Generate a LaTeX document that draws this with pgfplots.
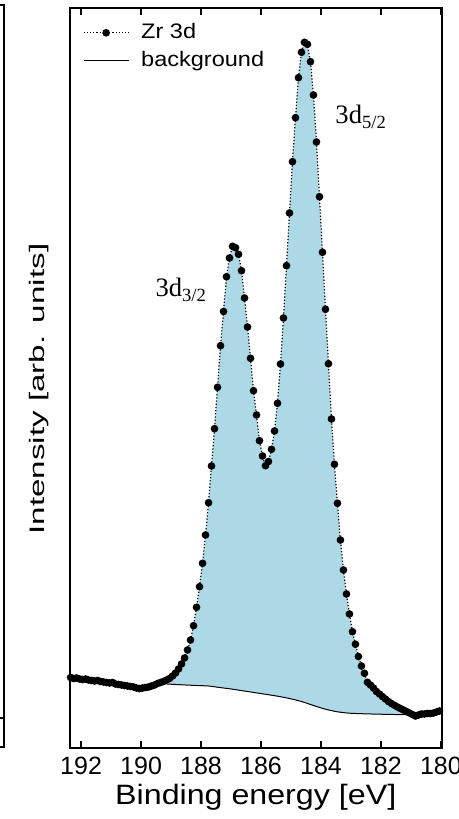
\documentclass[border=0pt]{standalone}
\usepackage{fontspec}
\setmainfont{Liberation Sans}
\newfontfamily\legfont{Liberation Sans}[FakeStretch=1.12]
\newfontfamily\xlabfont{Liberation Sans}[FakeStretch=1.15]
\newfontfamily\ylabfont{Liberation Sans}[FakeStretch=1.58]
\newfontfamily\seriffont{Liberation Serif}
\usepackage{pgfplots}
\usepackage{pgfplotstable}
\usepgfplotslibrary{fillbetween}
\pgfplotsset{compat=1.18}
\definecolor{fillblue}{RGB}{173,216,230}

\pgfplotstableread{
E I
192.35 72.5
192.25 71.5
192.15 72
192.05 71
191.95 70.5
191.85 71
191.75 70
191.65 69.5
191.55 69
191.45 69.5
191.35 68.5
191.25 68
191.15 67.5
191.05 67
190.95 67.5
190.85 66
190.75 65.5
190.65 65
190.55 64.5
190.45 64
190.35 63.5
190.25 63
190.15 62
190.05 61.5
189.95 62
189.85 62.5
189.75 63
189.65 64
189.55 65
189.45 66.5
189.35 67.5
189.25 68.5
189.15 70
189.05 71.5
188.95 74
188.85 77
188.75 81
188.65 86
188.55 92
188.45 100
188.35 110
188.25 124.3
188.15 142.7
188.05 163.3
187.95 186.7
187.85 215
187.75 247.3
187.65 284
187.55 321.3
187.45 362.7
187.35 404.3
187.25 438.5
187.15 473.3
187.05 492
186.95 503.7
186.85 502.3
186.75 495.7
186.65 479.3
186.55 452
186.45 423
186.35 391.7
186.25 359.3
186.15 335
186.05 309.3
185.95 294
185.85 284.3
185.75 288.5
185.65 300.7
185.55 319
185.45 346.7
185.35 386
185.25 432
185.15 484.3
185.05 537
184.95 588.3
184.85 632.3
184.75 672.3
184.65 697.7
184.55 707.7
184.45 705.7
184.35 688.3
184.25 655
184.15 608
184.05 553.3
183.95 497.7
183.85 440.7
183.75 386.3
183.65 331
183.55 285.7
183.45 246.7
183.35 210
183.25 180
183.15 156
183.05 136
182.95 118.3
182.85 105.8
182.75 93.5
182.65 84
182.55 76.7
182.45 67.7
182.35 65
182.25 62
182.15 58.5
182.05 56
181.95 53.5
181.85 51
181.75 48.5
181.65 46.5
181.55 44.7
181.45 43
181.35 41.5
181.25 40
181.15 38.5
181.05 37
180.95 35.5
180.85 34
180.75 35
180.65 36
180.55 36
180.45 36.5
180.35 36.5
180.25 37
180.15 38
180.05 39
}\zrdata

\pgfplotstableread{
E I
189.15 66
188.65 65.2
188.15 64.5
187.75 64
187.45 62.8
186.95 60.8
186.45 58.5
185.95 56.2
185.45 53.8
185.05 51.5
184.65 48.5
184.25 44.5
183.85 40.8
183.45 38.2
183.05 36.8
182.55 36.2
182.05 35.8
181.55 35.5
181.05 35.3
}\bgdata

\begin{document}
\begin{tikzpicture}
% fragment of the neighbouring panel
\begin{axis}[at={(-33pt,0.65pt)}, anchor=south east, scale only axis,
  width=150pt, height=371pt, xmin=0, xmax=1, ymin=0, ymax=742,
  xtick=\empty, ytick=\empty, axis line style={line width=1pt}]
\addplot[black, line width=0.8pt] coordinates {(0.8,29) (1,29)};
\end{axis}
% main panel
\begin{axis}[at={(0pt,0pt)}, anchor=south west, scale only axis,
  width=185.75pt, height=370.3pt,
  x dir=reverse, xmin=179.98, xmax=192.37, ymin=1.7, ymax=742.3,
  xtick={180,182,184,186,188,190,192}, ytick=\empty,
  xtick pos=both, tick align=inside, major tick length=3.5pt,
  every tick/.style={black, line width=1pt},
  axis line style={line width=1pt},
  /pgf/number format/assume math mode=true,
  xticklabel style={font=\fontsize{12.5}{15}\selectfont, anchor=base, yshift=-13.3pt},
  xlabel={Binding energy [eV]},
  every axis x label/.style={at={(axis description cs:0.5,0)}, anchor=base, yshift=-28.3pt, font=\xlabfont\fontsize{14}{16}\selectfont},
  ylabel={Intensity [arb. units]},
  every axis y label/.style={at={(axis description cs:-0.0673,0.485)}, rotate=90, anchor=base, font=\ylabfont\fontsize{10.5}{12}\selectfont},
  legend cell align=left,
  legend image code/.code={\draw[mark repeat=2,mark phase=2,#1] plot coordinates {(0pt,0pt) (11.25pt,0pt) (22.5pt,0pt)};},
  legend style={draw=none, fill=none, at={(axis description cs:0.035,0.980)}, anchor=north west,
    inner sep=0pt, outer sep=0pt, row sep=3.55pt, font=\legfont\fontsize{10.5}{12.5}\selectfont,
    nodes={inner sep=0pt, text height=8pt, text depth=2.3pt},
    /tikz/every odd column/.append style={column sep=6pt}},
]
\addplot[draw=none, name path=data, forget plot] table[x=E,y=I]{\zrdata};
\addplot[draw=none, name path=bg, smooth, forget plot] table[x=E,y=I]{\bgdata};
\addplot[fill=fillblue, draw=none, forget plot] fill between[of=data and bg, soft clip={domain=181.05:189.15}];
\addplot[black, densely dotted, line width=0.6pt, mark=*, mark size=1.6pt, mark options={solid, fill=black}] table[x=E,y=I]{\zrdata};
\addlegendentry{Zr 3d}
\addplot[black, line width=0.5pt, smooth] table[x=E,y=I]{\bgdata};
\addlegendentry{background}
\node[anchor=base west, inner sep=0pt, font=\seriffont\fontsize{13.3}{15}\selectfont] at (axis cs:183.53,626) {3d\textsubscript{5/2}};
\node[anchor=base west, inner sep=0pt, font=\seriffont\fontsize{13.3}{15}\selectfont] at (axis cs:189.53,453) {3d\textsubscript{3/2}};
\end{axis}
\pgfresetboundingbox
\useasboundingbox (-35pt,-35.35pt) rectangle (194.5pt,374.15pt);
\end{tikzpicture}
\end{document}
